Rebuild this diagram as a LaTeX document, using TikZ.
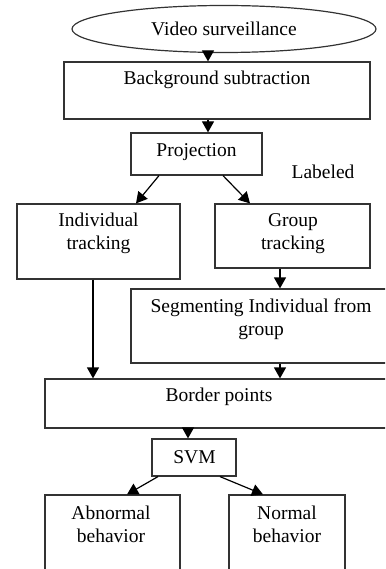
\documentclass[tikz,border=0pt]{standalone}
\usepackage{fontspec}
\setmainfont{Liberation Serif}
\usetikzlibrary{shapes.geometric,arrows.meta}
\definecolor{linec}{gray}{0.2}
\begin{document}
\begin{tikzpicture}[x=1pt,y=-1pt,
  box/.style={draw=linec,line width=1.2pt,rectangle,inner sep=0pt},
  oval/.style={draw=linec,line width=1.2pt,ellipse,inner sep=0pt},
  txt/.style={font=\fontsize{19.5}{23}\selectfont,align=center,inner sep=0pt,text=black},
  arr/.style={draw=black,line width=1.2pt,-{Triangle[length=11pt,width=12pt]}}]
\clip (0,0) rectangle (385,569);
\useasboundingbox (0,0) rectangle (385,569);
% boxes
\node[oval,minimum width=304pt,minimum height=47pt] (vs) at (224,29) {};
\node[box,minimum width=306pt,minimum height=57pt] (bg) at (217,90.5) {};
\node[box,minimum width=131pt,minimum height=42pt] (proj) at (196.5,154) {};
\node[box,minimum width=163pt,minimum height=75pt] (ind) at (98.5,241.5) {};
\node[box,minimum width=155pt,minimum height=64pt] (grp) at (292.5,236) {};
\node[box,minimum width=270pt,minimum height=74pt] (seg) at (266,326) {};
\node[box,minimum width=356pt,minimum height=49pt] (bord) at (223,403.5) {};
\node[box,minimum width=84pt,minimum height=37pt] (svm) at (194,457.5) {};
\node[box,minimum width=135pt,minimum height=100pt] (abn) at (112.5,545) {};
\node[box,minimum width=116pt,minimum height=100pt] (nor) at (287,545) {};
% texts
\node[txt] (tvs) at (224,29) {Video surveillance};
\node[txt] (tbg) at (217,80) {Background subtraction};
\node[txt] (tproj) at (196.5,152) {Projection};
\node[txt] (tlab) at (323,172) {Labeled};
\node[txt] (tind) at (98.5,233.5) {Individual\\tracking};
\node[txt] (tgrp) at (293,233.5) {Group\\tracking};
\node[txt] (tseg) at (261,319.5) {Segmenting Individual from\\group};
\node[txt] (tbord) at (219,397) {Border points};
\node[txt] (tsvm) at (194.5,457) {SVM};
\node[txt] (tabn) at (111,524.5) {Abnormal\\behavior};
\node[txt] (tnor) at (287,524.5) {Normal\\behavior};
% helper x positions
\coordinate (x208) at (208,0);
\coordinate (x159) at (159,0);
\coordinate (x136) at (136,0);
\coordinate (x223) at (223,0);
\coordinate (x250) at (250,0);
\coordinate (x280) at (280,0);
\coordinate (x93) at (93,0);
\coordinate (x188) at (188,0);
\coordinate (x158) at (158,0);
\coordinate (x127) at (127,0);
\coordinate (x220) at (220,0);
\coordinate (x263) at (263,0);
% connectors
\draw[arr] (vs.south -| x208) -- (bg.north -| x208);
\draw[arr] (bg.south -| x208) -- (proj.north -| x208);
\draw[arr] (proj.south -| x159) -- (ind.north -| x136);
\draw[arr] (proj.south -| x223) -- (grp.north -| x250);
\draw[arr] (grp.south -| x280) -- (seg.north -| x280);
\draw[arr] (ind.south -| x93) -- (bord.north -| x93);
\draw[arr] (seg.south -| x280) -- (bord.north -| x280);
\draw[arr] (bord.south -| x188) -- (svm.north -| x188);
\draw[arr] (svm.south -| x158) -- (abn.north -| x127);
\draw[arr] (svm.south -| x220) -- (nor.north -| x263);
\end{tikzpicture}
\end{document}
